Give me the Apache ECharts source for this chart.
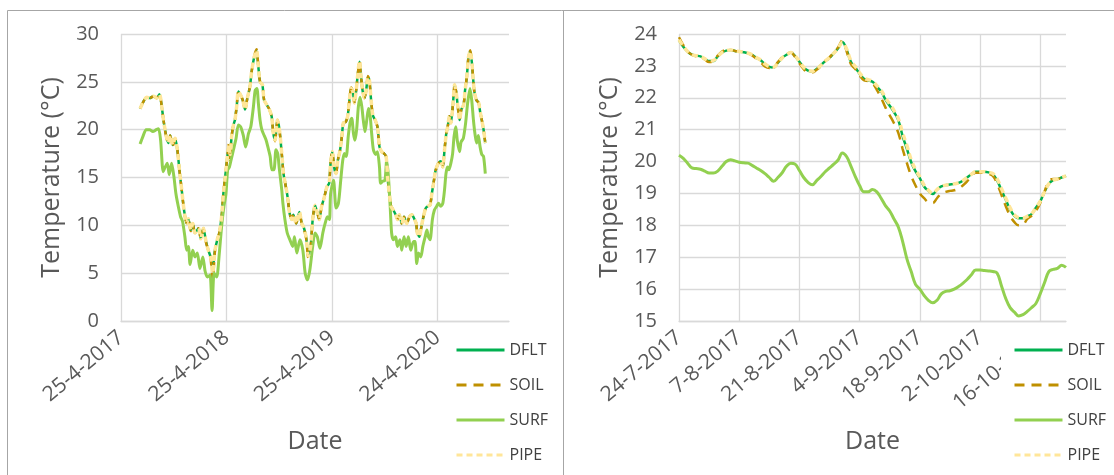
<!DOCTYPE html>
<html>
<head>
<meta charset="utf-8">
<script src="https://cdn.jsdelivr.net/npm/echarts@6/dist/echarts.min.js"></script>
<style>
  html, body { margin: 0; padding: 0; background: #ffffff; }
  #chart { width: 1114px; height: 475px; }
</style>
</head>
<body>
<div id="chart"></div>
<script>
// ---------- Long record: days since 25-4-2017 ----------
const longTicks = ['25-4-2017', '25-4-2018', '25-4-2019', '24-4-2020'];
const longDays = [
  66,77,89,100,112,123,133,141,147,156,
  164,170,179,187,195,202,210,218,227,233,
  241,248,256,268,276,285,294,302,310,317,
  325,333,340,348,354,363,368,373,377,383,
  389,394,400,406,414,421,429,437,446,452,
  461,469,475,481,489,495,504,512,521,527,
  533,541,548,556,562,568,576,583,591,596,
  606,617,625,632,640,648,656,663,671,679,
  686,694,702,712,720,725,731,737,744,750,
  758,764,769,777,784,790,796,802,807,813,
  818,825,829,836,842,848,854,859,865,871,
  879,887,894,902,910,917,923,929,934,942,
  950,957,963,971,979,988,998,1006,1014,1021,
  1025,1032,1038,1046,1054,1061,1069,1075,1081,1087,
  1092,1098,1106,1113,1119,1125,1130,1136,1141,1148,
  1154,1159,1165,1171,1177,1185,1190,1196,1202,1208,
  1214,1217,1222,1229,1237,1242,1248,1254,1260
];
const dfltLong = [
  22.2,22.9,23.4,23.3,23.5,23.3,23.7,22.4,21.0,19.4,
  18.6,19.4,18.4,19.1,17.9,15.8,13.7,11.6,10.2,10.7,
  9.5,10.2,9.2,9.7,8.6,9.7,8.3,7.4,6.7,5.5,
  7.4,8.5,9.2,10.9,13.3,15.8,17.2,18.2,17.5,19.4,
  20.5,21.0,22.4,24.0,23.6,23.1,22.1,23.3,24.5,26.1,
  27.6,28.2,26.6,25.0,24.7,23.1,22.6,22.2,21.4,19.6,
  18.9,21.0,20.0,17.5,15.4,14.4,13.0,11.3,10.6,11.1,
  10.2,11.4,10.2,9.8,8.8,6.9,7.8,10.6,12.1,11.3,
  10.6,12.0,12.8,14.0,14.4,16.5,17.7,16.1,15.4,16.8,
  17.9,19.3,20.7,20.8,21.4,23.1,24.3,24.0,22.8,24.0,
  25.5,27.1,25.9,24.0,23.3,24.1,25.5,25.2,23.1,21.5,
  21.0,20.3,18.2,17.7,17.5,17.2,14.7,13.0,12.0,11.6,
  11.1,10.6,11.1,10.2,10.9,10.2,10.9,11.1,10.7,10.2,
  9.2,8.8,9.7,10.9,11.8,12.0,12.1,13.3,14.4,15.6,
  16.1,16.5,16.7,16.1,17.9,19.6,20.3,21.4,20.7,22.6,
  24.7,24.0,22.4,21.0,22.1,22.6,24.1,25.5,27.6,28.2,
  26.9,25.7,24.0,23.1,22.8,21.9,21.0,20.0,18.6
];
const soilLong = [
  22.2,22.9,23.4,23.3,23.5,23.3,23.8,22.4,21.0,19.3,
  18.5,19.4,18.3,19.1,17.9,15.8,13.7,11.6,10.2,10.7,
  9.4,10.2,9.1,9.7,8.6,9.7,8.2,7.4,6.5,4.2,
  7.3,8.5,9.2,10.9,13.3,15.8,17.2,18.5,16.8,19.4,
  20.5,21.0,22.4,24.0,23.6,23.1,22.0,23.3,24.5,26.1,
  27.7,28.4,26.6,25.0,24.7,23.1,22.6,22.2,21.4,19.5,
  18.8,21.0,20.0,17.5,15.4,14.4,13.0,11.3,10.6,11.1,
  10.2,11.4,10.2,9.7,8.7,6.6,7.8,10.6,12.1,11.3,
  10.6,12.0,12.8,14.0,14.4,16.6,17.8,16.1,15.4,16.8,
  17.9,19.3,20.7,20.8,21.4,23.1,24.4,24.0,22.8,24.0,
  25.5,27.3,25.9,24.0,23.3,24.1,25.6,25.2,23.1,21.5,
  21.0,20.3,18.2,17.7,17.5,17.2,14.7,13.0,12.0,11.6,
  11.1,10.6,11.1,10.2,10.9,10.2,10.9,11.1,10.7,10.2,
  9.1,8.8,9.7,10.9,11.8,12.0,12.1,13.3,14.4,15.6,
  16.1,16.5,16.7,16.1,17.9,19.6,20.3,21.4,20.7,22.6,
  24.8,24.0,22.4,21.0,22.1,22.6,24.1,25.5,27.7,28.3,
  26.9,25.7,24.0,23.1,22.8,21.9,21.0,20.0,18.6
];
const pipeLong = [
  22.2,22.9,23.4,23.3,23.5,23.3,23.7,22.4,21.0,19.4,
  18.6,19.4,18.4,19.1,17.9,15.8,13.7,11.6,10.2,10.7,
  9.5,10.2,9.2,9.7,8.6,9.7,8.3,7.4,6.7,5.0,
  7.4,8.5,9.2,10.9,13.3,15.8,17.2,18.3,17.4,19.4,
  20.5,21.0,22.4,24.0,23.6,23.1,22.1,23.3,24.5,26.1,
  27.6,28.3,26.6,25.0,24.7,23.1,22.6,22.2,21.4,19.6,
  18.9,21.0,20.0,17.5,15.4,14.4,13.0,11.3,10.6,11.1,
  10.2,11.4,10.2,9.8,8.8,6.8,7.8,10.6,12.1,11.3,
  10.6,12.0,12.8,14.0,14.4,16.5,17.7,16.1,15.4,16.8,
  17.9,19.3,20.7,20.8,21.4,23.1,24.3,24.0,22.8,24.0,
  25.5,27.2,25.9,24.0,23.3,24.1,25.5,25.2,23.1,21.5,
  21.0,20.3,18.2,17.7,17.5,17.2,14.7,13.0,12.0,11.6,
  11.1,10.6,11.1,10.2,10.9,10.2,10.9,11.1,10.7,10.2,
  9.2,8.8,9.7,10.9,11.8,12.0,12.1,13.3,14.4,15.6,
  16.1,16.5,16.7,16.1,17.9,19.6,20.3,21.4,20.7,22.6,
  24.7,24.0,22.4,21.0,22.1,22.6,24.1,25.5,27.6,28.2,
  26.9,25.7,24.0,23.1,22.8,21.9,21.0,20.0,18.6
];
const surfLongDays = [
  66,76,87,99,110,122,130,137,146,153,
  160,167,175,183,190,198,206,213,221,227,
  233,239,248,256,264,273,283,291,299,308,
  315,322,331,339,348,356,363,369,375,382,
  389,398,406,414,423,431,441,449,458,464,
  470,475,481,487,495,502,508,516,522,529,
  536,542,548,556,560,567,575,584,594,600,
  608,619,629,637,645,653,663,671,679,688,
  698,706,714,721,725,735,744,752,760,767,
  773,779,786,792,798,804,809,815,821,827,
  833,838,844,850,856,861,867,873,881,887,
  894,898,905,913,919,925,931,936,942,950,
  956,965,971,979,986,994,1002,1012,1017,1023,
  1029,1037,1044,1052,1058,1063,1069,1077,1084,1092,
  1098,1106,1113,1119,1124,1129,1134,1141,1147,1152,
  1158,1163,1171,1176,1184,1192,1199,1207,1213,1219,
  1225,1230,1236,1242,1248,1254,1260
];
const surfLong = [
  18.5,19.3,20.0,20.0,19.8,20.0,20.1,18.9,15.6,16.1,
  16.5,15.3,16.5,15.1,13.3,12.0,10.9,10.4,8.8,7.4,
  7.8,5.9,7.4,6.7,7.1,5.5,6.7,5.2,4.6,4.8,
  1.1,5.0,4.6,6.7,9.9,12.0,13.3,15.8,16.1,17.0,
  17.9,19.1,20.5,20.3,19.4,18.2,19.6,20.3,22.4,24.1,
  24.3,22.8,21.0,20.0,19.4,18.9,18.2,17.2,15.8,15.8,
  17.9,17.5,15.8,13.7,12.3,10.6,9.2,8.5,7.8,8.8,
  7.1,8.5,7.4,5.0,4.3,5.3,7.8,9.2,8.8,7.6,
  9.2,10.2,10.9,10.6,13.3,14.7,11.8,12.3,14.7,16.8,
  17.5,17.2,19.3,20.7,21.2,19.6,18.9,20.0,22.4,23.4,
  22.4,21.0,19.8,21.0,22.2,21.7,19.6,17.9,17.4,17.7,
  16.1,14.4,14.6,14.7,16.8,15.1,12.0,9.2,8.5,8.8,
  7.8,8.5,7.4,8.8,7.8,8.8,7.4,8.3,8.3,6.0,
  7.1,6.7,7.8,8.8,9.5,8.8,8.5,10.6,11.6,12.0,
  12.3,12.0,12.3,13.7,15.4,16.1,15.8,16.5,17.5,19.3,
  20.3,18.9,17.7,18.7,19.1,20.7,22.8,24.3,23.1,21.0,
  19.4,18.6,19.4,18.2,17.4,17.2,15.4
];

// ---------- Short record: daily values from 24-7-2017 ----------
const shortTicks = ['24-7-2017', '7-8-2017', '21-8-2017', '4-9-2017', '18-9-2017', '2-10-2017', '16-10-2017'];
const dfltShort = [
  23.8,23.6,23.45,23.35,23.32,23.3,23.22,23.15,23.15,23.3,
  23.42,23.48,23.5,23.47,23.45,23.43,23.4,23.35,23.25,23.18,
  23.05,22.97,22.95,23.1,23.25,23.35,23.42,23.3,23.13,22.95,
  22.85,22.82,22.9,23.02,23.15,23.25,23.4,23.55,23.75,23.5,
  23.12,22.95,22.75,22.6,22.55,22.5,22.35,22.2,21.95,21.75,
  21.55,21.3,20.8,20.4,19.98,19.7,19.48,19.22,19.08,18.98,
  19.12,19.22,19.26,19.28,19.3,19.33,19.4,19.5,19.6,19.68,
  19.68,19.68,19.66,19.6,19.4,19.1,18.8,18.5,18.3,18.22,
  18.22,18.28,18.35,18.55,18.75,19.05,19.3,19.42,19.45,19.5,19.55
];
const soilShort = [
  23.9,23.65,23.45,23.35,23.3,23.28,23.2,23.12,23.15,23.32,
  23.45,23.5,23.5,23.47,23.45,23.43,23.4,23.33,23.22,23.12,
  22.98,22.93,22.95,23.12,23.27,23.36,23.42,23.28,23.08,22.9,
  22.8,22.8,22.88,23.0,23.15,23.27,23.42,23.58,23.8,23.45,
  23.05,22.9,22.7,22.55,22.52,22.45,22.25,22.0,21.7,21.45,
  21.2,20.9,20.4,19.95,19.55,19.25,19.0,18.85,18.72,18.7,
  18.85,19.0,19.05,19.08,19.1,19.15,19.25,19.38,19.55,19.65,
  19.65,19.65,19.62,19.55,19.3,18.95,18.6,18.3,18.1,18.0,
  18.02,18.2,18.3,18.45,18.7,19.05,19.38,19.45,19.45,19.5,19.55
];
const surfShort = [
  20.2,20.1,19.95,19.8,19.78,19.76,19.7,19.64,19.64,19.7,
  19.85,20.0,20.06,20.02,19.98,19.96,19.95,19.88,19.8,19.72,
  19.62,19.5,19.38,19.5,19.65,19.85,19.95,19.92,19.72,19.5,
  19.35,19.27,19.4,19.53,19.68,19.8,19.92,20.05,20.27,20.15,
  19.85,19.53,19.25,19.05,19.05,19.12,19.05,18.85,18.62,18.45,
  18.2,17.95,17.5,16.95,16.55,16.15,16.0,15.8,15.65,15.57,
  15.65,15.85,15.93,15.95,16.0,16.08,16.18,16.3,16.45,16.6,
  16.6,16.58,16.57,16.55,16.5,16.1,15.7,15.42,15.28,15.16,
  15.2,15.3,15.42,15.55,15.85,16.2,16.55,16.62,16.65,16.75,16.68
];
const pipeShort = [
  23.82,23.62,23.45,23.35,23.32,23.3,23.22,23.16,23.17,23.3,
  23.42,23.48,23.5,23.47,23.45,23.43,23.4,23.35,23.26,23.18,
  23.06,22.98,22.96,23.1,23.25,23.35,23.42,23.32,23.14,22.96,
  22.86,22.83,22.9,23.02,23.15,23.26,23.4,23.55,23.74,23.52,
  23.15,22.98,22.78,22.62,22.57,22.52,22.38,22.24,22.0,21.8,
  21.6,21.35,20.9,20.5,20.05,19.75,19.52,19.26,19.1,19.0,
  19.12,19.22,19.26,19.28,19.3,19.33,19.4,19.5,19.6,19.68,
  19.68,19.68,19.66,19.62,19.45,19.15,18.85,18.55,18.33,18.24,
  18.23,18.28,18.36,18.55,18.75,19.05,19.3,19.42,19.45,19.5,19.55
];

// ---------- Styling ----------
const FONT = '"Open Sans", "Noto Sans", sans-serif';
const TEXT = '#595959';
const GRID_LINE = '#d9d9d9';
const STYLE = {
  DFLT: { color: '#00b050', width: 2.5, type: 'solid' },
  SOIL: { color: '#bf9000', width: 2.5, type: [10, 7] },
  SURF: { color: '#92d050', width: 3, type: 'solid' },
  PIPE: { color: '#ffe699', width: 3.5, type: [6, 4] }
};
const NAMES = ['DFLT', 'SOIL', 'SURF', 'PIPE'];

function pairs(xs, ys) { return ys.map((v, i) => [xs[i], v]); }
function indexed(ys) { return ys.map((v, i) => [i, v]); }

function makeX(gridIndex, max, interval, ticks) {
  return {
    type: 'value', gridIndex: gridIndex, min: 0, max: max, interval: interval,
    axisLine: { show: true, lineStyle: { color: GRID_LINE, width: 1.3 } },
    axisTick: { show: false },
    splitLine: { show: true, showMaxLine: false, lineStyle: { color: GRID_LINE, width: 1.3 } },
    axisLabel: {
      rotate: 40, margin: 14, color: TEXT, fontSize: 21, fontFamily: FONT, showMaxLabel: false,
      formatter: function (v) { return v % interval === 0 ? (ticks[v / interval] || '') : ''; }
    },
    name: 'Date', nameLocation: 'middle', nameGap: 108,
    nameTextStyle: { color: TEXT, fontSize: 25, fontFamily: FONT }
  };
}
function makeY(gridIndex, min, max, interval) {
  return {
    type: 'value', gridIndex: gridIndex, min: min, max: max, interval: interval,
    axisLine: { show: false }, axisTick: { show: false },
    splitLine: { show: true, lineStyle: { color: GRID_LINE, width: 1.3 } },
    axisLabel: { color: TEXT, fontSize: 20, fontFamily: FONT, margin: 22 },
    name: 'Temperature (°C)', nameLocation: 'middle', nameGap: 57,
    nameTextStyle: { color: TEXT, fontSize: 25, fontFamily: FONT }
  };
}
function makeSeries(name, idx, data, smooth) {
  const s = STYLE[name];
  return {
    name: name, type: 'line', xAxisIndex: idx, yAxisIndex: idx, data: data,
    symbol: 'none', smooth: smooth, animation: false,
    lineStyle: { color: s.color, width: s.width, type: s.type },
    itemStyle: { color: s.color }
  };
}
// Legend keys show only the line sample, without a point marker.
function makeLegend(left, top, padding, bg) {
  return {
    orient: 'vertical', left: left, top: top, padding: padding, backgroundColor: bg,
    itemWidth: 48, itemHeight: 14, itemGap: 19, selectedMode: false,
    textStyle: { color: '#404040', fontSize: 16, fontFamily: FONT },
    data: NAMES.map(n => ({
      name: n,
      itemStyle: { color: 'rgba(0,0,0,0)', borderWidth: 0, opacity: 0 },
      lineStyle: { color: STYLE[n].color, width: 3, type: STYLE[n].type, opacity: 1 }
    }))
  };
}

const chart = echarts.init(document.getElementById('chart'), null, { renderer: 'canvas' });
chart.setOption({
  backgroundColor: '#ffffff',
  animation: false,
  grid: [
    { left: 121, top: 34, width: 388, height: 287 },
    { left: 679, top: 34, width: 387, height: 287 }
  ],
  xAxis: [makeX(0, 1342, 365, longTicks), makeX(1, 90, 14, shortTicks)],
  yAxis: [makeY(0, 0, 30, 5), makeY(1, 15, 24, 1)],
  legend: [
    makeLegend(455, 342, 0, 'transparent'),
    makeLegend(1001, 326, [16, 4, 8, 12], '#ffffff')
  ],
  series: [
    makeSeries('DFLT', 0, pairs(longDays, dfltLong), 0.25),
    makeSeries('SOIL', 0, pairs(longDays, soilLong), 0.25),
    makeSeries('SURF', 0, pairs(surfLongDays, surfLong), 0.25),
    makeSeries('PIPE', 0, pairs(longDays, pipeLong), 0.25),
    makeSeries('DFLT', 1, indexed(dfltShort), 0.4),
    makeSeries('SOIL', 1, indexed(soilShort), 0.4),
    makeSeries('SURF', 1, indexed(surfShort), 0.4),
    makeSeries('PIPE', 1, indexed(pipeShort), 0.4)
  ],
  graphic: [
    { type: 'polyline', silent: true,
      shape: { points: [[7.5, 480], [7.5, 10.5], [1120, 10.5]] },
      style: { stroke: '#a6a6a6', lineWidth: 1, fill: null } },
    { type: 'line', silent: true,
      shape: { x1: 563.5, y1: 10.5, x2: 563.5, y2: 480 },
      style: { stroke: '#a6a6a6', lineWidth: 1 } }
  ]
});
</script>
</body>
</html>
